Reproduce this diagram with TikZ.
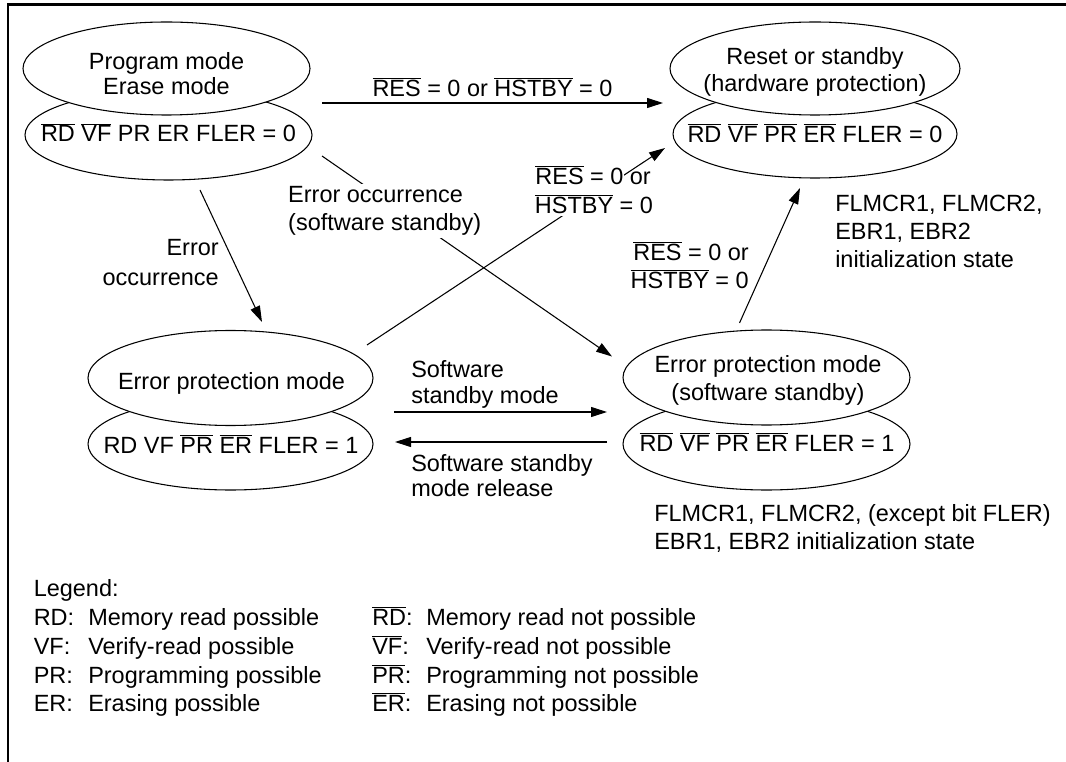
\documentclass[tikz,border=0pt]{standalone}
\usepackage{fontspec}
\setmainfont{Liberation Sans}
\usetikzlibrary{shapes.geometric,arrows.meta}
\newcommand\olx[1]{$\overline{\hbox{#1}}$}
\begin{document}
\begin{tikzpicture}[x=0.75pt,y=-0.75pt,
  ell/.style={draw, ellipse, fill=white, line width=0.8pt, inner sep=0pt, outer sep=0pt},
  txt/.style={inner sep=0pt, font=\fontsize{17.6pt}{21pt}\selectfont},
  arr/.style={line width=0.8pt, -{Triangle[length=12pt,width=7.5pt]}},
  frame/.style={line width=2pt}]
\useasboundingbox (0,0) rectangle (1066,762);
\draw[frame] (1066,4.5) -- (8,4.5) -- (8,762);

% top-left
\node[ell, minimum width=287*0.75, minimum height=90*0.75] (tlB) at (168.5,135) {};
\node[ell, minimum width=287*0.75, minimum height=93*0.75] (tlA) at (166.5,68.5) {};
\node[txt, align=center, font=\fontsize{17.6pt}{18.75pt}\selectfont] (tlAt) at (166.5,73.5) {Program mode\\Erase mode};
\node[txt, anchor=base] (tlBt) at (168.5,142) {\olx{RD} \olx{VF} PR ER FLER = 0};

% top-right
\node[ell, minimum width=284*0.75, minimum height=88*0.75] (trB) at (815,134) {};
\node[ell, minimum width=290*0.75, minimum height=93*0.75] (trA) at (815,68.5) {};
\node[txt, align=center, font=\fontsize{17.6pt}{20.25pt}\selectfont] (trAt) at (815,71.5) {Reset or standby\\(hardware protection)};
\node[txt, anchor=base] (trBt) at (815,142.5) {\olx{RD} \olx{VF} \olx{PR} \olx{ER} FLER = 0};

% bottom-left
\node[ell, minimum width=285*0.75, minimum height=92*0.75] (blB) at (230.5,444) {};
\node[ell, minimum width=285*0.75, minimum height=95*0.75] (blA) at (230.5,378) {};
\node[txt, anchor=base] (blAt) at (231.5,389) {Error protection mode};
\node[txt, anchor=base] (blBt) at (231,453) {RD VF \olx{PR} \olx{ER} FLER = 1};

% bottom-right
\node[ell, minimum width=287*0.75, minimum height=92*0.75] (brB) at (766.5,444) {};
\node[ell, minimum width=287*0.75, minimum height=95*0.75] (brA) at (766.5,377.5) {};
\node[txt, align=center] (brAt) at (768,380) {Error protection mode\\(software standby)};
\node[txt, anchor=base] (brBt) at (767,451.5) {\olx{RD} \olx{VF} \olx{PR} \olx{ER} FLER = 1};

% connector end points
\coordinate (a1s) at (322,103);   \coordinate (a1e) at (663,103);
\coordinate (a2s) at (322,156);   \coordinate (a2e) at (612,356.5);
\coordinate (a3s) at (200,190);   \coordinate (a3e) at (262,322);
\coordinate (a4s) at (367,345);   \coordinate (a4e) at (665,148);
\coordinate (a5s) at (739.5,323); \coordinate (a5e) at (800,188);
\coordinate (a6s) at (394,412);   \coordinate (a6e) at (607,412);
\coordinate (a7s) at (607,442);   \coordinate (a7e) at (395,442);

\draw[arr] (a1s) -- (a1e);
\draw[arr] (a2s) -- (a2e);
\draw[arr] (a3s) -- (a3e);
\draw[arr] (a4s) -- (a4e);
\draw[arr] (a5s) -- (a5e);
\draw[arr] (a6s) -- (a6e);
\draw[arr] (a7s) -- (a7e);

% labels
\node[txt, anchor=base] (l1) at (492.5,97) {\olx{RES} = 0 or \olx{HSTBY} = 0};
\node[txt, align=left, anchor=west, fill=white, inner sep=2pt] (l2) at (285.3,211) {Error occurrence\\(software standby)};
\node[txt, align=right, anchor=east, font=\fontsize{17.6pt}{22.5pt}\selectfont] (l3) at (219,262.5) {Error\\occurrence};
\node[txt, anchor=base west, fill=white, inner xsep=0.5pt, inner ysep=1pt, text height=21pt] (l4c) at (534,214) {\olx{HSTBY} = 0};
\node[txt, anchor=base west, fill=white, inner xsep=0.5pt, inner ysep=1pt] (l4a) at (534.5,185) {\olx{RES} = 0};
\node[txt, anchor=base west] (l4b) at (629.5,185) {or};
\node[txt, align=right, anchor=east] (l5) at (749,265.5) {\olx{RES} = 0 or\\\olx{HSTBY} = 0};
\node[txt, align=left, anchor=west, font=\fontsize{17.6pt}{19.5pt}\selectfont] (l6) at (411,384) {Software\\standby mode};
\node[txt, align=left, anchor=west, font=\fontsize{17.6pt}{18.75pt}\selectfont] (l7) at (411,476) {Software standby\\mode release};

% annotations
\node[txt, align=left, anchor=west] (n8) at (835,231.5) {FLMCR1, FLMCR2,\\EBR1, EBR2\\initialization state};
\node[txt, align=left, anchor=west] (n9) at (654,528) {FLMCR1, FLMCR2, (except bit FLER)\\EBR1, EBR2 initialization state};

% legend
\node[txt, anchor=base west] (lg) at (33.5,596.5) {Legend:};
\node[txt, anchor=base west] (lg1a) at (33.5,625.4) {RD:};
\node[txt, anchor=base west] (lg1b) at (88,625.4) {Memory read possible};
\node[txt, anchor=base west] (lg1c) at (372,625.4) {\olx{RD}:};
\node[txt, anchor=base west] (lg1d) at (426,625.4) {Memory read not possible};
\node[txt, anchor=base west] (lg2a) at (33.5,654.2) {VF:};
\node[txt, anchor=base west] (lg2b) at (88,654.2) {Verify-read possible};
\node[txt, anchor=base west] (lg2c) at (372,654.2) {\olx{VF}:};
\node[txt, anchor=base west] (lg2d) at (426,654.2) {Verify-read not possible};
\node[txt, anchor=base west] (lg3a) at (33.5,683) {PR:};
\node[txt, anchor=base west] (lg3b) at (88,683) {Programming possible};
\node[txt, anchor=base west] (lg3c) at (372,683) {\olx{PR}:};
\node[txt, anchor=base west] (lg3d) at (426,683) {Programming not possible};
\node[txt, anchor=base west] (lg4a) at (33.5,711.5) {ER:};
\node[txt, anchor=base west] (lg4b) at (88,711.5) {Erasing possible};
\node[txt, anchor=base west] (lg4c) at (372,711.5) {\olx{ER}:};
\node[txt, anchor=base west] (lg4d) at (426,711.5) {Erasing not possible};
\end{tikzpicture}
\end{document}
